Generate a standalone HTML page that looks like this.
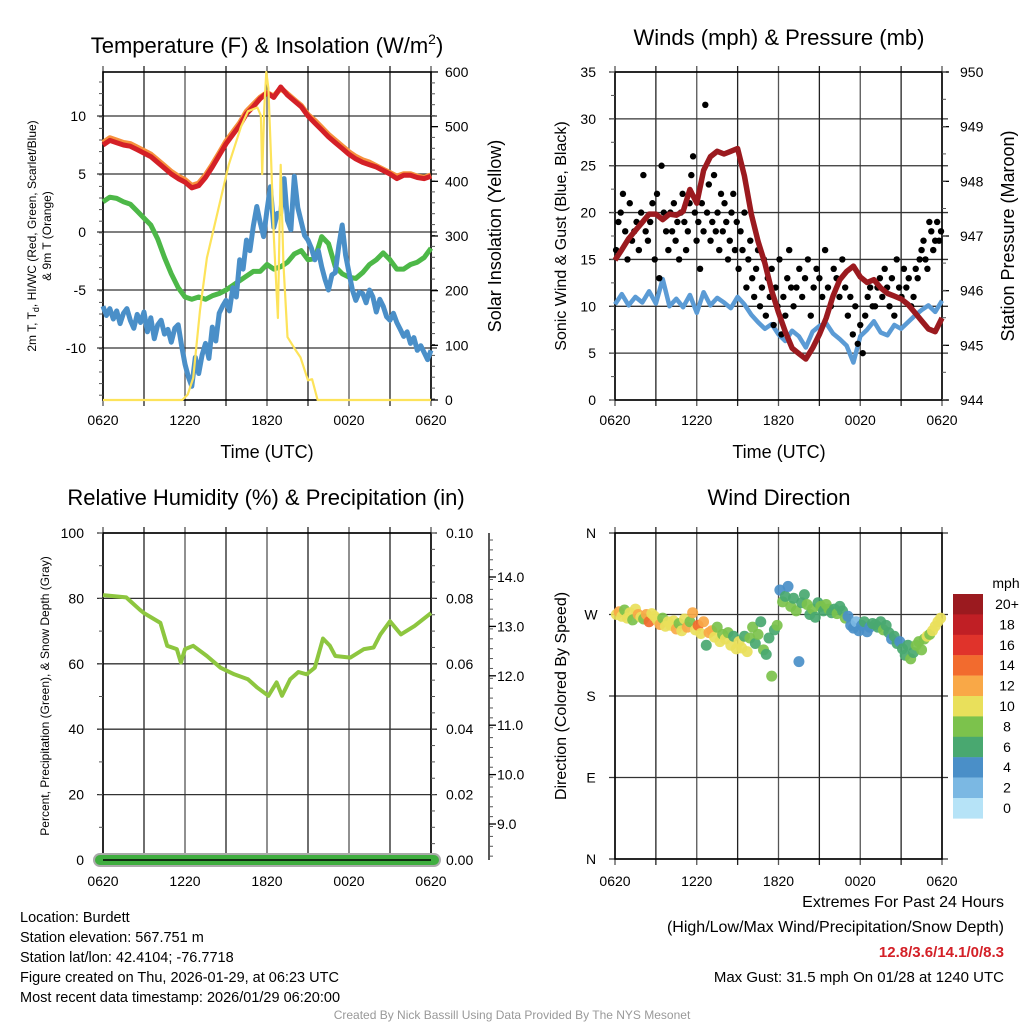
<!DOCTYPE html>
<html><head><meta charset="utf-8"><style>
html,body{margin:0;padding:0;background:#fff;}
svg{display:block;font-family:"Liberation Sans",sans-serif;}
</style></head><body>
<svg id="chart" width="1024" height="1024" viewBox="0 0 1024 1024">
<rect x="0" y="0" width="1024" height="1024" fill="#fff"/>
<g id="layer"></g>
<text x="267" y="53" font-size="22" text-anchor="middle">Temperature (F) &amp; Insolation (W/m<tspan dy="-9" font-size="14">2</tspan><tspan dy="9">)</tspan></text>
<text x="779" y="45" font-size="22" text-anchor="middle">Winds (mph) &amp; Pressure (mb)</text>
<text x="266" y="505" font-size="22" text-anchor="middle">Relative Humidity (%) &amp; Precipitation (in)</text>
<text x="779" y="505" font-size="22" text-anchor="middle">Wind Direction</text>
<text x="267" y="458" font-size="18" text-anchor="middle">Time (UTC)</text>
<text x="779" y="458" font-size="18" text-anchor="middle">Time (UTC)</text>
<text transform="translate(36,236) rotate(-90)" font-size="12" text-anchor="middle">2m T, T<tspan dy="3" font-size="9">d</tspan><tspan dy="-3">, HI/WC (Red, Green, Scarlet/Blue)</tspan></text>
<text transform="translate(51,236) rotate(-90)" font-size="12" text-anchor="middle">&amp; 9m T (Orange)</text>
<text transform="translate(501,236) rotate(-90)" font-size="18" text-anchor="middle">Solar Insolation (Yellow)</text>
<text transform="translate(566,236) rotate(-90)" font-size="16" text-anchor="middle">Sonic Wind &amp; Gust (Blue, Black)</text>
<text transform="translate(1014,236) rotate(-90)" font-size="18" text-anchor="middle">Station Pressure (Maroon)</text>
<text transform="translate(49,696) rotate(-90)" font-size="12" text-anchor="middle">Percent, Precipitation (Green), &amp; Snow Depth (Gray)</text>
<text transform="translate(566,696) rotate(-90)" font-size="16" text-anchor="middle">Direction (Colored By Speed)</text>
<g font-size="14.5">
<text x="20" y="922">Location: Burdett</text>
<text x="20" y="942">Station elevation: 567.751 m</text>
<text x="20" y="962">Station lat/lon: 42.4104; -76.7718</text>
<text x="20" y="982">Figure created on Thu, 2026-01-29, at 06:23 UTC</text>
<text x="20" y="1002">Most recent data timestamp: 2026/01/29 06:20:00</text>
</g>
<g text-anchor="end">
<text x="1004" y="907" font-size="16">Extremes For Past 24 Hours</text>
<text x="1004" y="932" font-size="16">(High/Low/Max Wind/Precipitation/Snow Depth)</text>
<text x="1004" y="957" font-size="15" font-weight="bold" fill="#d42027">12.8/3.6/14.1/0/8.3</text>
<text x="1004" y="982" font-size="15">Max Gust: 31.5 mph On 01/28 at 1240 UTC</text>
</g>
<text x="512" y="1019" font-size="12" fill="#999" text-anchor="middle">Created By Nick Bassill Using Data Provided By The NYS Mesonet</text>
</svg>
<script>
const xTickLabels = ["0620","1220","1820","0020","0620"];
const hourT = [0,0.5,1,1.5,2,2.5,3,3.5,4,4.5,5,5.5,6,6.5,7,7.5,8,8.5,9,9.5,10,10.5,11,11.5,12,12.5,13,13.5,14,14.5,15,15.5,16,16.5,17,17.5,18,18.5,19,19.5,20,20.5,21,21.5,22,22.5,23,23.5,24];
const tempRed = [7.5,7.9,7.7,7.5,7.4,7.1,6.8,6.5,6.0,5.5,5.0,4.6,4.3,3.8,4.0,4.7,5.6,6.6,7.6,8.4,9.2,10.2,10.8,11.5,12.0,11.6,12.5,11.8,11.3,10.8,10.0,9.4,8.8,8.2,7.7,7.2,6.7,6.3,6.0,5.8,5.6,5.3,5.0,4.6,4.9,4.9,4.7,4.6,4.8];
const temp9m = [7.7,8.1,7.9,7.7,7.6,7.3,7.0,6.7,6.2,5.7,5.2,4.8,4.5,4.0,4.2,4.9,5.8,6.8,7.8,8.6,9.4,10.4,11.0,11.6,12.0,11.7,12.4,11.9,11.4,10.9,10.1,9.6,9.0,8.4,7.9,7.4,6.9,6.5,6.2,6.0,5.7,5.4,5.1,4.8,5.0,5.0,4.8,4.7,4.9];
const dewGreen = [2.6,3.0,2.9,2.6,2.4,1.8,1.2,0.6,-0.6,-2.2,-3.6,-4.8,-5.6,-5.8,-5.6,-5.8,-5.5,-5.3,-5.0,-4.6,-4.2,-3.8,-3.4,-3.4,-2.8,-3.2,-3.0,-2.6,-1.9,-1.6,-2.4,-2.3,-0.4,-1.0,-3.0,-3.6,-3.9,-4.0,-3.5,-2.8,-2.4,-1.8,-2.4,-3.2,-3.2,-2.8,-2.6,-2.2,-1.4];
const quarterT = [0,0.25,0.5,0.75,1,1.25,1.5,1.75,2,2.25,2.5,2.75,3,3.25,3.5,3.75,4,4.25,4.5,4.75,5,5.25,5.5,5.75,6,6.25,6.5,6.75,7,7.25,7.5,7.75,8,8.25,8.5,8.75,9,9.25,9.5,9.75,10,10.25,10.5,10.75,11,11.25,11.5,11.75,12,12.25,12.5,12.75,13,13.25,13.5,13.75,14,14.25,14.5,14.75,15,15.25,15.5,15.75,16,16.25,16.5,16.75,17,17.25,17.5,17.75,18,18.25,18.5,18.75,19,19.25,19.5,19.75,20,20.25,20.5,20.75,21,21.25,21.5,21.75,22,22.25,22.5,22.75,23,23.25,23.5,23.75,24];
const windChill = [-6.4,-7.2,-6.6,-7.5,-6.8,-7.9,-7.0,-6.6,-7.6,-8.3,-7.1,-7.8,-6.9,-8.6,-7.4,-9.2,-8.0,-7.6,-8.8,-8.4,-9.5,-8.3,-8.0,-9.8,-11.4,-12.5,-13.3,-10.8,-12.2,-10.6,-9.6,-10.9,-8.2,-9.4,-7.0,-6.4,-5.9,-6.8,-4.8,-5.6,-2.4,-3.2,-0.7,-1.6,0.5,2.2,0.8,-0.4,1.9,3.9,0.4,1.6,1.6,4.6,1.0,0.2,4.8,2.1,0.9,-0.3,-0.7,-1.4,-2.4,-1.6,-3.0,-4.1,-5.0,-3.7,-3.5,-1.2,0.6,-2.0,-3.5,-5.0,-5.9,-5.2,-5.3,-6.1,-5.0,-5.6,-6.9,-5.8,-6.4,-7.3,-7.6,-7.0,-7.8,-8.4,-9.0,-8.6,-9.6,-9.1,-10.2,-9.8,-10.4,-11.0,-10.2];
const insT = [0,5.8,6.2,6.6,7.1,7.6,8.4,9.2,10.1,10.6,11.3,11.55,11.65,11.8,11.95,12.1,12.3,12.5,12.8,13.0,13.2,13.5,14.0,14.45,15.0,15.3,15.7,24];
const insV = [0,0,10,40,164,260,345,430,500,528,535,520,413,535,600,570,440,300,150,430,250,115,95,78,36,38,0,0];
const pressure = [946.56,946.75,946.95,947.1,947.25,947.4,947.4,947.3,947.4,947.38,947.45,947.85,947.6,948.2,948.45,948.55,948.5,948.55,948.6,948.1,947.4,946.9,946.5,946.0,945.6,945.25,944.95,944.85,944.75,944.95,945.2,945.5,945.9,946.2,946.35,946.45,946.25,946.15,946.2,946.05,945.95,945.9,945.85,945.75,945.6,945.45,945.3,945.25,945.5];
const sonicWind = [10.2,11.3,10.1,11.0,10.4,11.6,10.3,12.9,10.0,10.8,9.9,11.2,9.3,11.5,10.1,10.9,10.4,9.8,11.0,10.2,9.1,8.3,7.6,8.1,7.0,6.3,7.4,6.8,5.6,7.3,7.9,8.2,7.1,6.5,5.8,4.0,6.8,7.5,8.4,7.2,6.9,8.0,7.6,8.3,9.0,9.6,10.1,9.4,10.6];
const gustSegStart = [0,4,9,13,17,19,22];
const gustSegEnd = [4,9,13,17,19,22,24];
const gustSeg0 = [16,19,20,22,18,15,21,17,18,19,16,20,24,18,17,19,21,15,22,13,25,20,18,16];
const gustSeg1 = [20,18,21,17,19,15,20,22,19,16,18,21,24,26,20,17,19,14,21,18,31.5,20,23,17,19,24,18,20,16,22,18,21,19,15,17,20,22,16,19];
const gustSeg2 = [14,18,16,20,12,15,17,13,11,14,16,10,12,15,9,13,11,14,8,12,10,15,7,11,9,13,16,12];
const gustSeg3 = [10,12,14,11,13,15,9,12,14,13,11,16,12,10,14,13,11,15,12];
const gustSeg4 = [9,11,7,10,6,8,5,9,11,12,10];
const gustSeg5 = [10,12,13,11,14,12,10,13,9,15,12,11,14,12,13,10,11];
const gustSeg6 = [14,13,15,16,17,15,14,19,18,16,17,19,17,18];
const rhT = [0,1.7,2.7,3.0,4.2,4.7,5.4,5.7,6.0,6.6,7.6,8.6,9.6,10.6,11.3,12.1,12.7,13.1,13.7,14.3,14.9,15.5,16.1,16.6,17.0,18.1,19.1,19.8,20.3,21.0,21.8,22.8,24];
const rhV = [81,80.3,76.5,75.5,72.5,65.5,64.5,60.4,64.5,65.5,62.4,58.8,56.8,55.3,52.7,50.2,54.3,50.2,55.3,57.5,56.8,58.8,67.7,65.5,62.4,61.9,64.5,65,69,73,69,71.6,75.5];
const dirT = [0.1,0.3,0.5,0.7,0.9,1.1,1.3,1.5,1.7,1.9,2.1,2.3,2.5,2.7,2.9,3.1,3.3,3.5,3.7,3.9,4.1,4.3,4.5,4.7,4.9,5.1,5.3,5.5,5.7,5.9,6.1,6.3,6.5,6.7,6.9,7.1,7.3,7.5,7.7,7.9,8.1,8.3,8.5,8.7,8.9,9.1,9.3,9.5,9.7,9.9,10.1,10.3,10.5,10.7,10.9,11.1,11.3,11.5,11.7,11.9,12.1,12.3,12.5,12.7,12.9,13.1,13.3,13.5,13.7,13.9,14.1,14.3,14.5,14.7,14.9,15.1,15.3,15.5,15.7,15.9,16.1,16.3,16.5,16.7,16.9,17.1,17.3,17.5,17.7,17.9,18.1,18.3,18.5,18.7,18.9,19.1,19.3,19.5,19.7,19.9,20.1,20.3,20.5,20.7,20.9,21.1,21.3,21.5,21.7,21.9,22.1,22.3,22.5,22.7,22.9,23.1,23.3,23.5,23.7,23.9];
const dirD = [270,273,268,275,266,272,264,276,270,267,265,270,262,271,268,264,259,266,257,262,258,263,254,260,252,265,256,262,272,253,258,249,262,236,250,252,245,256,240,248,243,250,236,246,232,240,233,246,229,244,256,238,248,262,231,226,244,202,253,258,297,284,290,301,279,288,274,218,283,292,281,270,276,267,283,279,274,281,276,272,276,271,279,274,266,268,258,255,262,252,258,262,251,256,260,259,256,262,253,258,250,243,246,238,240,232,225,236,221,228,236,240,231,243,246,248,252,257,262,266];
const dirS = [10,12,10,9,11,10,8,11,13,10,9,12,15,10,11,10,12,9,11,10,11,10,12,9,10,10,12,9,13,10,15,11,13,6,12,12,10,8,11,9,10,8,11,7,10,10,11,7,10,8,8,6,9,7,8,6,7,8,6,9,4,8,7,4,8,6,8,4,7,6,8,7,8,7,6,8,7,8,9,7,7,8,6,7,8,4,5,4,3,4,4,6,5,4,6,6,7,6,8,6,6,5,6,6,5,6,7,6,8,7,8,9,8,8,10,9,10,10,11,10];
const cbLabels = ["20+","18","16","14","12","10","8","6","4","2","0"];
const cbColors = ["#9b1a1f","#c01f25","#e0332b","#f26b2e","#f9a847","#e9e05b","#7cc24c","#49a870","#4a8fc8","#7bb8e3","#b6e3f7"];
const p1LeftTicks = [10,5,0,-5,-10];
const p1RightTicks = [0,100,200,300,400,500,600];
const p2LeftTicks = [0,5,10,15,20,25,30,35];
const p2RightTicks = [944,945,946,947,948,949,950];
const p3LeftTicks = [0,20,40,60,80,100];
const p3RightTicks = [0,0.02,0.04,0.06,0.08,0.10];
const snowTicks = [9,10,11,12,13,14];
const dirTickLabels = ["N","E","S","W","N"];
const dirTickVals = [0,90,180,270,360];

const NS = "http://www.w3.org/2000/svg";
const layer = document.getElementById("layer");
function mk(tag, attrs, parent){const e=document.createElementNS(NS,tag);for(const k in attrs)e.setAttribute(k,attrs[k]);(parent||layer).appendChild(e);return e;}
const LX0=103, LX1=431, RX0=615, RX1=942;
const xL = t => LX0 + t/24*(LX1-LX0);
const xR = t => RX0 + t/24*(RX1-RX0);
const yTemp = v => 232 - 11.6*v;
const yIns = v => 400 - v*0.5467;
const yWind = v => 400 - v*9.371;
const yPres = p => 72 + (950-p)*54.67;
const yRH = v => 860 - v*3.27;
const yPrecip = v => 860 - v*3270;
const ySnow = v => 577 + (14-v)*49.4;
const yDir = d => 859 - d/360*326;
function pathOf(xs, ys, fx, fy){return xs.map((t,i)=>(i?"L":"M")+fx(t).toFixed(1)+","+fy(ys[i]).toFixed(1)).join("");}

function frame(x0,x1,y0,y1,name,hvals,hy){
  const g=mk("g",{});
  
  
  for(let i=0;i<=8;i++){
    const x=x0+i*(x1-x0)/8;
    const l=mk("line",{x1:x,x2:x,y1:y0-6,y2:y1+6,stroke:(i%2? "#222":"#555"),"stroke-width":1.3},g);
    
    
  }
  hvals.forEach(v=>{
    const y=hy(v);
    const l=mk("line",{x1:x0-6,x2:x1+6,y1:y,y2:y,stroke:"#333","stroke-width":1.3},g);
    
    
  });
  const r=mk("rect",{x:x0,y:y0,width:x1-x0,height:y1-y0,fill:"none",stroke:"#000","stroke-width":1.6},g);
  
  
}
function label(x,y,txt,anchor,size,name,col){
  const t=mk("text",{x:x,y:y,"text-anchor":anchor,"font-size":size,fill:col||"#000"});
  t.textContent=txt;
  
  
  return t;
}
function xlabels(fx,y){xTickLabels.forEach((s,i)=>label(fx(i*6),y,s,"middle",14,"x-tick-label"));}
function minorTicks(x,y0,y1,step,side){
  for(let y=y0;y<=y1+0.1;y+=step){
    const l=mk("line",{x1:x,x2:x+side*4,y1:y,y2:y,stroke:"#555","stroke-width":1});
    
    
  }
}

frame(LX0,LX1,72,400,"temperature",p1LeftTicks,yTemp);
minorTicks(LX1,72,400,10.9,1);
minorTicks(LX0,82,400,11.6,-1);
p1LeftTicks.forEach(v=>label(86,yTemp(v)+5,String(v),"end",14,"p1-left-tick-label"));
p1RightTicks.forEach(v=>{label(445,yIns(v)+5,String(v),"start",14,"p1-right-tick-label");
  const l=mk("line",{x1:LX1,x2:LX1+7,y1:yIns(v),y2:yIns(v),stroke:"#000","stroke-width":1.3});
  
  });
xlabels(xL,425);
let e;
e=mk("path",{d:pathOf(hourT,temp9m,xL,yTemp),fill:"none",stroke:"#f7913d","stroke-width":5.5,"stroke-linejoin":"round"});


e=mk("path",{d:pathOf(hourT,tempRed,xL,yTemp),fill:"none",stroke:"#d42027","stroke-width":5,"stroke-linejoin":"round"});


e=mk("path",{d:pathOf(hourT,dewGreen,xL,yTemp),fill:"none",stroke:"#4db848","stroke-width":5,"stroke-linejoin":"round"});


e=mk("path",{d:pathOf(quarterT,windChill,xL,yTemp),fill:"none",stroke:"#4a8fc8","stroke-width":5,"stroke-linejoin":"round"});


e=mk("path",{d:pathOf(insT,insV,xL,yIns),fill:"none",stroke:"#fde35a","stroke-width":2.2,"stroke-linejoin":"round"});



frame(RX0,RX1,72,400,"winds",p2LeftTicks,yWind);
minorTicks(RX0,72,400,23.43,-1);
p2LeftTicks.forEach(v=>label(596,yWind(v)+5,String(v),"end",14,"p2-left-tick-label"));
p2RightTicks.forEach(v=>{label(960,yPres(v)+5,String(v),"start",14,"p2-right-tick-label");
  const l=mk("line",{x1:RX1,x2:RX1+7,y1:yPres(v),y2:yPres(v),stroke:"#000","stroke-width":1.3});
  
  });
minorTicks(RX1,72,400,27.3,1);
xlabels(xR,425);
e=mk("path",{d:pathOf(hourT,sonicWind,xR,yWind),fill:"none",stroke:"#5b9bd5","stroke-width":4.5,"stroke-linejoin":"round"});


const gustSegs=[gustSeg0,gustSeg1,gustSeg2,gustSeg3,gustSeg4,gustSeg5,gustSeg6];
gustSegs.forEach((seg,si)=>{
  seg.forEach((v,i)=>{
    const t=gustSegStart[si]+(i+0.5)*(gustSegEnd[si]-gustSegStart[si])/seg.length;
    const c=mk("circle",{cx:xR(t),cy:yWind(v),r:3.2,fill:"#000"});
    
    
  });
});
e=mk("path",{d:pathOf(hourT,pressure,xR,yPres),fill:"none",stroke:"#9b1a1f","stroke-width":5.5,"stroke-linejoin":"round"});



frame(LX0,LX1,533,860,"humidity",p3LeftTicks,yRH);
minorTicks(LX0,533,860,32.7,-1);
minorTicks(LX1,533,860,16.35,1);
p3LeftTicks.forEach(v=>label(84,yRH(v)+5,String(v),"end",14,"p3-left-tick-label"));
p3RightTicks.forEach(v=>label(446,yPrecip(v)+5,v.toFixed(2),"start",14,"p3-right-tick-label"));
e=mk("line",{x1:489,x2:489,y1:533,y2:860,stroke:"#000","stroke-width":1.3});


minorTicks(489,540,860,9.88,1);
snowTicks.forEach(v=>{label(497,ySnow(v)+5,v.toFixed(1),"start",14,"snow-tick-label");
  const l=mk("line",{x1:489,x2:496,y1:ySnow(v),y2:ySnow(v),stroke:"#000","stroke-width":1.3});
  
  });
xlabels(xL,886);
e=mk("line",{x1:xL(0)-3,x2:xL(24)+3,y1:yPrecip(0),y2:yPrecip(0),stroke:"#aaa","stroke-width":14,"stroke-linecap":"round"});


e=mk("line",{x1:xL(0)-3,x2:xL(24)+3,y1:yPrecip(0),y2:yPrecip(0),stroke:"#3fae3f","stroke-width":10,"stroke-linecap":"round"});


e=mk("line",{x1:LX0,x2:LX1,y1:860,y2:860,stroke:"#000","stroke-width":1.5});


e=mk("path",{d:pathOf(rhT,rhV,xL,yRH),fill:"none",stroke:"#8dc63f","stroke-width":4,"stroke-linejoin":"round"});



frame(RX0,RX1,533,859,"direction",dirTickVals,yDir);
dirTickVals.forEach((v,i)=>label(591,yDir(v)+5,dirTickLabels[i],"middle",14,"direction-tick-label"));
xlabels(xR,886);
function colorFor(s){let idx=10-Math.floor(s/2);if(idx<0)idx=0;if(idx>10)idx=10;return cbColors[idx];}
dirT.forEach((t,i)=>{
  const c=mk("circle",{cx:xR(t),cy:yDir(dirD[i]),r:5.5,fill:colorFor(dirS[i]),"fill-opacity":0.92});
  
  
});
label(1006,588,"mph","middle",14,"colorbar-title");
cbColors.forEach((col,i)=>{
  const r=mk("rect",{x:953,y:594+i*20.4,width:30,height:20.6,fill:col});
  
  
  label(1007,594+i*20.4+15,cbLabels[i],"middle",14,"colorbar-label");
});
</script>
</body></html>
